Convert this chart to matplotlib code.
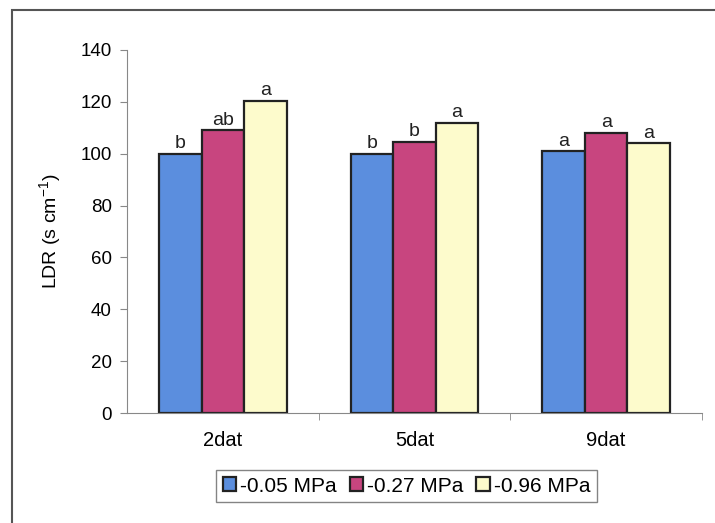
import numpy as np
import matplotlib.pyplot as plt
from matplotlib.patches import Rectangle

plt.rcParams['font.family'] = ['Liberation Sans', 'DejaVu Sans']
plt.rcParams['mathtext.fontset'] = 'custom'
plt.rcParams['mathtext.rm'] = 'Liberation Sans'

groups = ['2dat', '5dat', '9dat']
series = ['-0.05 MPa', '-0.27 MPa', '-0.96 MPa']
vals_005 = [100, 100, 101]
vals_027 = [109, 104.5, 108]
vals_096 = [120.5, 112, 104]
letters_005 = ['b', 'b', 'a']
letters_027 = ['ab', 'b', 'a']
letters_096 = ['a', 'a', 'a']
colors = ['#5b8ede', '#c8457f', '#fdfbcc']

fig = plt.figure(figsize=(7.15, 5.23), dpi=100)
ax = fig.add_axes([127/715, 1 - 413/523, (702 - 127)/715, (413 - 50)/523])

# outer chart border
fig.patches.append(Rectangle((12/715, -0.1), 1.1, 1 - 10/523 + 0.1,
                             transform=fig.transFigure, fill=False,
                             edgecolor='#555555', linewidth=1.5))

x = np.arange(len(groups))
w = 0.222
all_vals = [vals_005, vals_027, vals_096]
all_letters = [letters_005, letters_027, letters_096]
for i in range(3):
    pos = x + (i - 1) * w
    ax.bar(pos, all_vals[i], width=w, color=colors[i], edgecolor='#222222',
           linewidth=1.6, label=series[i])
    for p, v, t in zip(pos, all_vals[i], all_letters[i]):
        ax.text(p, v + 0.6, t, ha='center', va='bottom', fontsize=14, color='#222222')

ax.set_xlim(-0.5, 2.5)
ax.set_ylim(0, 140)
ax.set_yticks(range(0, 141, 20))
ax.set_xticks(x)
ax.set_xticklabels(groups, fontsize=14.5)
ax.set_xticks([0.5, 1.5, 2.5], minor=True)
ax.tick_params(axis='x', which='major', length=0, pad=13)
ax.tick_params(axis='x', which='minor', length=5, color='#888888')
ax.tick_params(axis='y', length=5, color='#888888', labelsize=13.5, pad=6)
for s in ['top', 'right']:
    ax.spines[s].set_visible(False)
for s in ['left', 'bottom']:
    ax.spines[s].set_color('#888888')
ax.set_ylabel('LDR (s cm$^{\\mathrm{-1}}$)', fontsize=14, labelpad=12)

leg = ax.legend(loc='center', bbox_to_anchor=(0.5 * (213 + 600) / 715, 1 - 486/523),
                bbox_transform=fig.transFigure, ncol=3, fontsize=15, frameon=True,
                fancybox=False, handlelength=0.65, handleheight=0.65,
                handletextpad=0.2, columnspacing=0.6, borderpad=0.3)
leg.get_frame().set_edgecolor('#666666')
leg.get_frame().set_linewidth(1.0)

fig.savefig('out.png', dpi=100)
